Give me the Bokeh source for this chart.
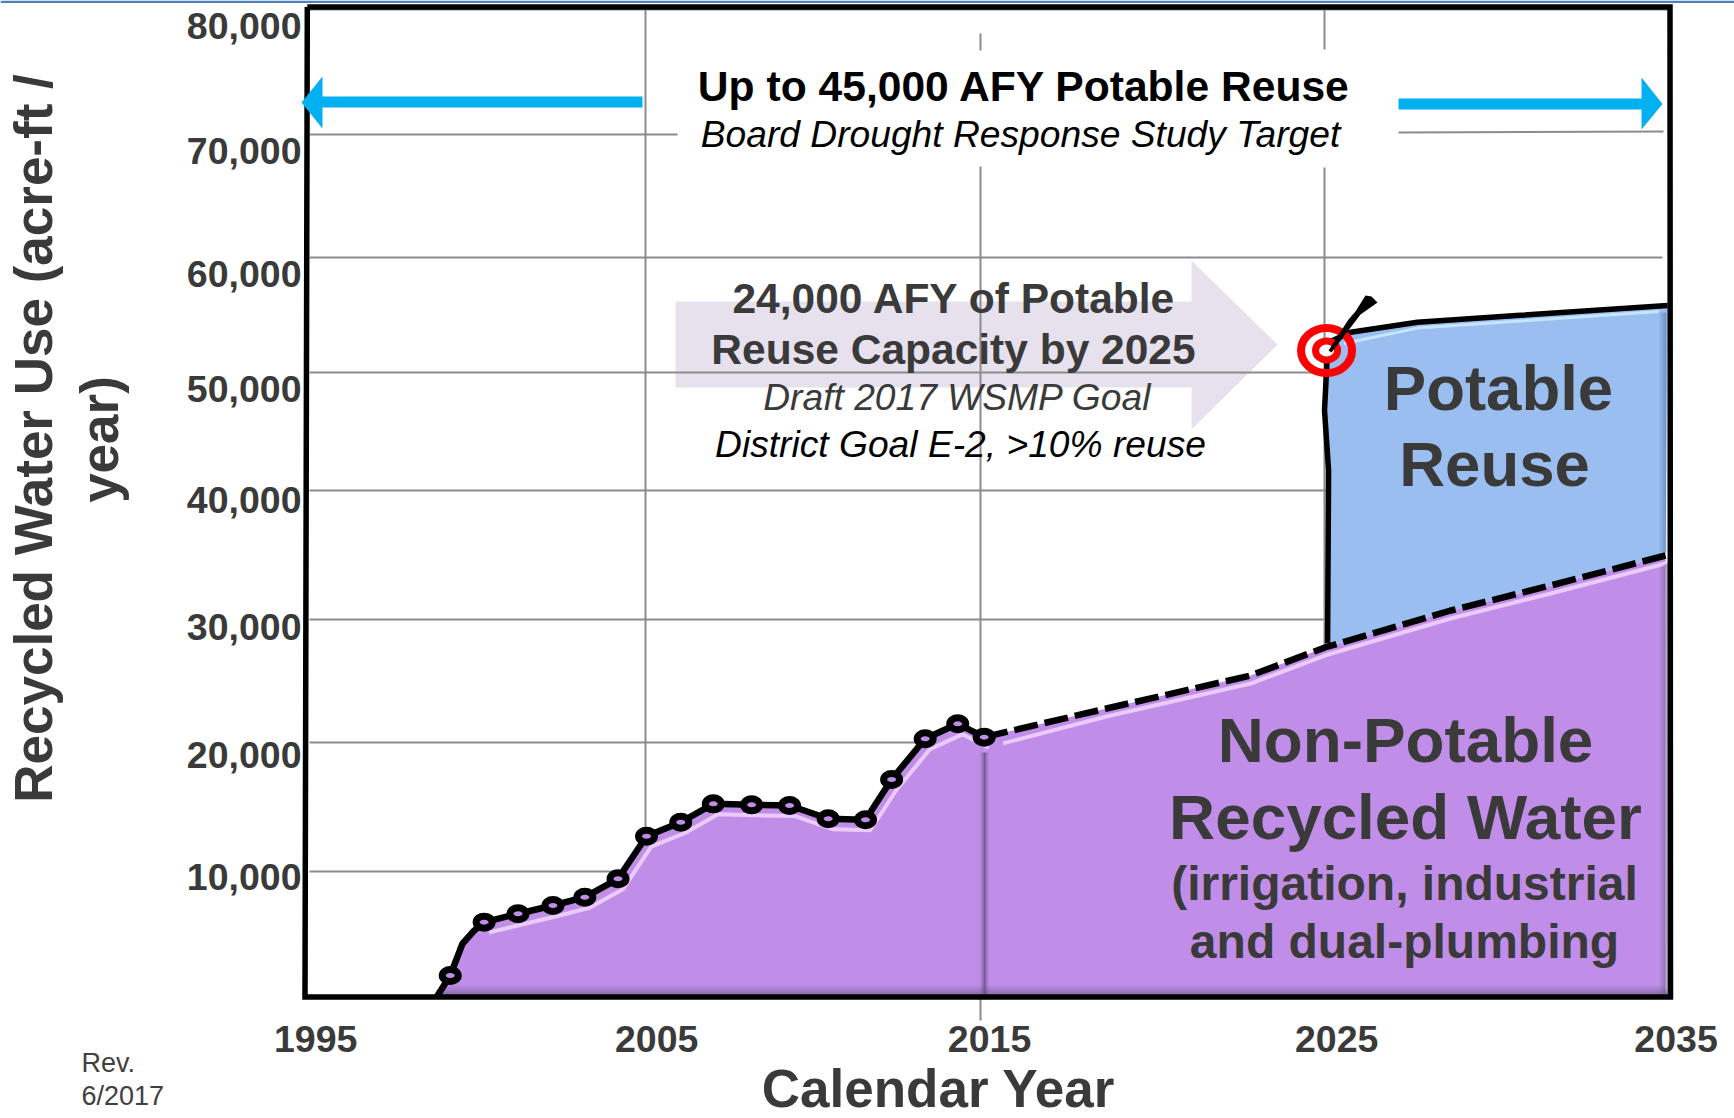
from math import pi
from bokeh.plotting import figure
from bokeh.models import FixedTicker
from bokeh.core.properties import value
from bokeh.embed import file_html
from bokeh.resources import INLINE

# ---- data ----
line_year = [1998.83, 1999.24, 1999.6, 1999.95, 2000.24, 2001.24, 2002.27, 2003.21, 2004.19, 2005.03, 2006.04,
             2007.0, 2008.13, 2009.25, 2010.39, 2011.49, 2012.26, 2013.25, 2014.21, 2014.99]
line_use = [0, 1780, 4350, 5430, 6100, 6780, 7450, 8120, 9610, 13060, 14190,
            15680, 15600, 15550, 14470, 14390, 17650, 20950, 22160, 21080]
mark_year = line_year[1:2] + line_year[4:]
mark_use = line_use[1:2] + line_use[4:]
proj_year = [2014.99, 2018.6, 2022.85, 2025.06, 2028.75, 2031.7, 2035.09]
proj_use = [21080, 23400, 26070, 28360, 31335, 33360, 35790]
pot_year = [2025.12, 2025.15, 2025.03, 2025.12, 2025.27, 2025.8, 2027.77, 2030.7, 2035.15]
pot_use = [28660, 42670, 47530, 52390, 53200, 53870, 54680, 55220, 56030]
target_year = [2025.09]
target_use = [52390]

y_labels = ["80,000", "70,000", "60,000", "50,000", "40,000", "30,000", "20,000", "10,000"]
y_label_at = [78700, 68580, 58620, 49230, 40320, 29960, 19600, 9720]
x_labels = ["1995", "2005", "2015", "2025", "2035"]
x_label_at = [1995.27, 2005.33, 2015.15, 2025.39, 2035.4]
grid_y = [80000, 69880, 59920, 50610, 41050, 30610, 20650, 10200]

FONT = "Liberation Sans"
DARK = "#3a3a3a"
PURPLE = "#C08EE8"
BLUE = "#9ABEF0"
GRID = "#8c8c8c"

# picture pixel -> data, for decoration and text placement only
X = lambda px: 1995 + (px - 306) / 33.9
Y = lambda py: (997 - py) * 80.97

p = figure(width=1734, height=1118, output_backend="svg", toolbar_location=None,
           x_range=(X(0), X(1734)), y_range=(Y(1118), Y(0)),
           min_border_left=0, min_border_right=0, min_border_top=0, min_border_bottom=0,
           outline_line_color=None, background_fill_color="white")
p.grid.visible = False
p.xaxis[0].fixed_location = Y(1019)
p.yaxis[0].fixed_location = X(307)
for ax, ticks, labels in ((p.xaxis[0], x_label_at, x_labels), (p.yaxis[0], y_label_at, y_labels)):
    ax.ticker = FixedTicker(ticks=ticks)
    ax.major_label_overrides = dict(zip(ticks, labels))
    ax.major_label_text_font = FONT
    ax.major_label_text_font_style = "bold"
    ax.major_label_text_font_size = "37.5px"
    ax.major_label_text_color = DARK
    ax.major_label_standoff = 0
    ax.axis_line_color = None
    ax.major_tick_line_color = None
    ax.minor_tick_line_color = None

# rule along the page top
p.patch([X(0), X(1734), X(1734), X(0)], [Y(0), Y(0), Y(2.5), Y(2.5)], fill_color="#4F81BD", line_color=None)

# grey target arrow (under the grid)
p.patch([X(v) for v in (675, 1191, 1191, 1277, 1191, 1191, 675)],
        [Y(v) for v in (301, 301, 260, 344, 429, 387, 387)], fill_color="#E6E1EC", line_color=None)

# grid with the gap left for the heading
def seg(x0, y0, x1, y1):
    p.line([x0, x1], [y0, y1], line_color=GRID, line_width=2)

seg(2005, Y(9), 2005, 0)
seg(X(980), Y(33), X(980), Y(50))
seg(X(980), Y(166), X(980), Y(1020))
seg(X(1324), Y(9), X(1324), Y(49))
seg(X(1324), Y(167), X(1324), 0)
seg(X(309), grid_y[1], X(677), grid_y[1])
seg(X(1398), Y(132), X(1663), Y(131))
seg(X(309), grid_y[2], X(1662), grid_y[2])
for gv in grid_y[3:]:
    seg(X(309), gv, X(1327), gv)
seg(X(309), grid_y[0], X(1668), grid_y[0])

# areas
p.varea(line_year, [0] * len(line_year), line_use, fill_color=PURPLE)
p.varea(proj_year, [0] * len(proj_year), proj_use, fill_color=PURPLE)
p.patch(pot_year + proj_year[:2:-1], pot_use + proj_use[:2:-1], fill_color=BLUE, line_color=None)

# bevel
p.line([v + 0.14 for v in line_year[4:]], [v - 850 for v in line_use[4:]], line_color="#EBCBFB", line_width=4)
p.line([2015.55] + proj_year[1:], [21080 - 500] + [v - 650 for v in proj_use[1:]], line_color="#EBCBFB", line_width=4)
p.line([2025.6, 2027.77, 2030.7, 2034.9], [52950, 54200, 54750, 55550], line_color="#C6E6FF", line_width=3)
for i, alpha in enumerate((0.55, 0.42, 0.3, 0.18, 0.08)):
    p.line([X(437 + i), X(1668 - i)], [Y(994 - i * 2)] * 2, line_color="#5b4a78", line_width=2, line_alpha=alpha)
    p.line([X(1668 - i * 2)] * 2, [Y(994), Y(562 + i)], line_color="#4a3a68", line_width=2, line_alpha=alpha)
    p.line([X(984 - i), X(984 - i)], [Y(996), Y(752)], line_color="#5b4a78", line_width=1.2, line_alpha=alpha)
    p.line([X(984 + i), X(984 + i)], [Y(996), Y(752)], line_color="#5b4a78", line_width=1.2, line_alpha=alpha)
    p.line([X(1665 - i * 1.5)] * 2, [Y(312), Y(552)], line_color="#4f6fa8", line_width=1.5, line_alpha=alpha)

# series outlines
p.line(pot_year, pot_use, line_color="black", line_width=5.5)
p.line(line_year, line_use, line_color="black", line_width=6.5)
p.line(proj_year, proj_use, line_color="black", line_width=6.5, line_dash="24 7")
p.ellipse(mark_year, mark_use, width=16, height=12, width_units="screen", height_units="screen",
          fill_color=PURPLE, line_color="black", line_width=7)

# frame
p.line([X(v) for v in (306.8, 1669.5, 1670, 304.5, 306.8)], [Y(v) for v in (6.5, 6.5, 996.5, 996.5, 6.5)],
       line_color="black", line_width=5.5, line_join="miter")

# target and dart
p.ellipse(target_year, target_use, width=51, height=45, width_units="screen", height_units="screen",
          fill_color=None, line_color="#FF0000", line_width=8)
p.ellipse(target_year, target_use, width=22, height=19, width_units="screen", height_units="screen",
          fill_color="white", line_color="#FF0000", line_width=7)
p.patch([X(v) for v in (1328, 1348, 1355, 1365, 1371, 1377, 1360, 1331)],
        [Y(v) for v in (350, 319, 311, 295, 296, 302, 314, 352)], fill_color="black", line_color=None)

# blue arrows
p.patch([X(v) for v in (642, 322, 322, 301, 322, 322, 642)],
        [Y(v) for v in (96, 96, 76, 102, 128, 107, 107)], fill_color="#00B0F0", line_color=None)
p.patch([X(v) for v in (1398, 1641, 1641, 1662, 1641, 1641, 1398)],
        [Y(v) for v in (98, 98, 77, 103.5, 129, 109, 109)], fill_color="#00B0F0", line_color=None)

# texts
def t(s, cx, cy, size, color=DARK, style="bold", align="center", angle=0):
    p.text([X(cx)], [Y(cy)], text=[s], text_font=value(FONT), text_font_style=style, text_font_size=f"{size}px",
           text_color=color, text_align=align, text_baseline="middle", angle=angle)

t("Up to 45,000 AFY Potable Reuse", 1024, 85, 42.6, "black")
t("Board Drought Response Study Target", 1020, 133, 37.2, "black", "italic")
t("24,000 AFY of Potable", 954, 298, 42.5)
t("Reuse Capacity by 2025", 953, 349, 42.5)
t("Draft 2017 WSMP Goal", 957, 396, 37.2, DARK, "italic")
t("District Goal E-2, >10% reuse", 960, 443, 37.2, "black", "italic")
t("Potable", 1498, 387, 63.5)
t("Reuse", 1494, 463, 63.5)
t("Non-Potable", 1405, 739, 63.8)
t("Recycled Water", 1405, 816, 63.8)
t("(irrigation, industrial", 1404, 883, 48)
t("and dual-plumbing", 1404, 941, 48)
t("Recycled Water Use (acre-ft /", 33, 438, 53, angle=pi / 2)
t("year)", 99, 439, 53, angle=pi / 2)
t("Calendar Year", 938, 1088, 53)
t("Rev.", 81, 1062, 27, "#404040", "normal", "left")
t("6/2017", 81, 1095, 27, "#404040", "normal", "left")

open("out.html", "w").write(file_html(p, INLINE))
